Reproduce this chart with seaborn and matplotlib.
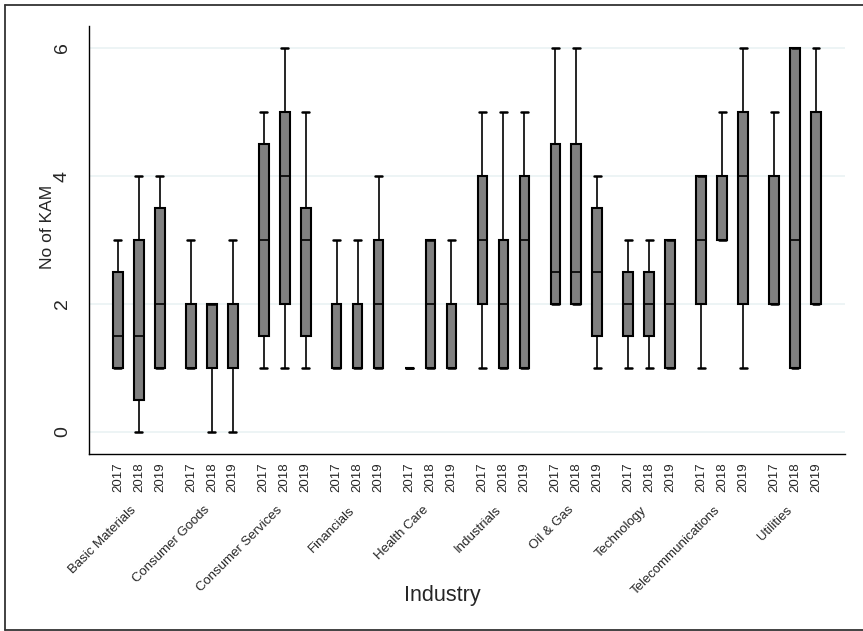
import matplotlib.pyplot as plt
from matplotlib.lines import Line2D
from matplotlib.transforms import ScaledTranslation
import numpy as np
import pandas as pd
import seaborn as sns

# categories
industries = ['Basic Materials', 'Consumer Goods', 'Consumer Services', 'Financials',
              'Health Care', 'Industrials', 'Oil & Gas', 'Technology',
              'Telecommunications', 'Utilities']
years = ['2017', '2018', '2019']

# five-number summaries: [min, q1, median, q3, max] per industry
kam_2017 = [[1, 1, 1.5, 2.5, 3], [1, 1, 1, 2, 3], [1, 1.5, 3, 4.5, 5], [1, 1, 1, 2, 3],
            [1, 1, 1, 1, 1], [1, 2, 3, 4, 5], [2, 2, 2.5, 4.5, 6], [1, 1.5, 2, 2.5, 3],
            [1, 2, 3, 4, 4], [2, 2, 2, 4, 5]]
kam_2018 = [[0, 0.5, 1.5, 3, 4], [0, 1, 2, 2, 2], [1, 2, 4, 5, 6], [1, 1, 1, 2, 3],
            [1, 1, 2, 3, 3], [1, 1, 2, 3, 5], [2, 2, 2.5, 4.5, 6], [1, 1.5, 2, 2.5, 3],
            [3, 3, 4, 4, 5], [1, 1, 3, 6, 6]]
kam_2019 = [[1, 1, 2, 3.5, 4], [0, 1, 1, 2, 3], [1, 1.5, 3, 3.5, 5], [1, 1, 2, 3, 4],
            [1, 1, 1, 2, 3], [1, 1, 3, 4, 5], [1, 1.5, 2.5, 3.5, 4], [1, 1, 2, 3, 3],
            [1, 2, 4, 5, 6], [2, 2, 2, 5, 6]]

# long table: five values per box give exactly those quartiles
rows = []
for yr, stats in zip(years, [kam_2017, kam_2018, kam_2019]):
    for ind, five in zip(industries, stats):
        for v in five:
            rows.append({'industry': ind, 'year': yr, 'kam': v})
df = pd.DataFrame(rows)

sns.set_style('white')
plt.rcParams['font.family'] = ['Liberation Sans', 'DejaVu Sans']

fig = plt.figure(figsize=(8.63, 6.31), dpi=100)
ax = fig.add_axes([0.1031, 0.2805, 0.876, 0.6783])

box_w = 0.863
gray = '#808080'
sns.boxplot(data=df, x='industry', y='kam', hue='year', order=industries,
            hue_order=years, palette=[gray] * 3, saturation=1, width=box_w,
            gap=0.54, whis=(0, 100), legend=False, ax=ax, capwidths=0.095,
            boxprops=dict(edgecolor='black', linewidth=1.5),
            medianprops=dict(color='black', linewidth=1.2),
            whiskerprops=dict(color='black', linewidth=1.2),
            capprops=dict(color='black', linewidth=1.8))

ax.set_xlim(-0.685, 9.685)
ax.set_ylim(-0.344, 6.344)

# grid
ax.set_yticks([0, 2, 4, 6])
ax.yaxis.grid(True, color='#eaf2f3', linewidth=1.2)
ax.xaxis.grid(False)
ax.set_axisbelow(True)
ax.tick_params(axis='y', length=7, width=1, color='#555555', pad=6,
               labelsize=14, labelrotation=90)
for lab in ax.get_yticklabels():
    lab.set_va('center')

# two-level x labels: years under each box, industry names below
offs = [-box_w / 3, 0, box_w / 3]
pos = np.arange(len(industries))
ax.xaxis.remove_overlapping_locs = False
ax.set_xticks(pos)
ax.set_xticklabels(industries, rotation=45, ha='right', va='top', fontsize=9.5)
shift = ScaledTranslation(3 / 100, 0, fig.dpi_scale_trans)
for lab in ax.get_xticklabels():
    lab.set_transform(lab.get_transform() + shift)
ax.set_xticks([p + o for p in pos for o in offs], minor=True)
ax.set_xticklabels(years * len(industries), minor=True, rotation=90,
                   va='top', ha='center', fontsize=9.5)
ax.tick_params(axis='x', which='major', length=0, pad=36)
ax.tick_params(axis='x', which='minor', length=0, pad=6)

for s in ['top', 'right']:
    ax.spines[s].set_visible(False)
for s in ['left', 'bottom']:
    ax.spines[s].set_color('black')
    ax.spines[s].set_linewidth(1)

ax.set_xlabel('Industry', fontsize=15.5)
ax.set_ylabel('No of KAM', fontsize=12.5)
ax.xaxis.set_label_coords(0.468, -0.306)
ax.yaxis.set_label_coords(-0.045, 0.53)

# outer frame
frame = dict(color='#333333', linewidth=1.3, transform=fig.transFigure)
fig.add_artist(Line2D([5 / 863, 5 / 863], [1 - 5 / 631, 1 - 630 / 631], **frame))
fig.add_artist(Line2D([5 / 863, 1], [1 - 5 / 631, 1 - 5 / 631], **frame))
fig.add_artist(Line2D([5 / 863, 1], [1 - 630 / 631, 1 - 630 / 631], **frame))

fig.savefig('out.png', dpi=100)
